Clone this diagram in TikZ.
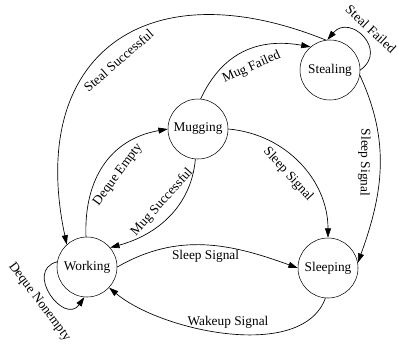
\documentclass[tikz,border=0pt]{standalone}
\usepackage{fontspec}
\setmainfont{Liberation Serif}
\usetikzlibrary{arrows.meta}

\begin{document}
\begin{tikzpicture}[x=0.75pt,y=0.75pt,>={Triangle[length=7pt,width=4.5pt]},
  font=\fontsize{10}{12}\selectfont,
  state/.style={draw,circle,minimum size=45pt,inner sep=0pt},
  trans/.style={->,line width=0.5pt},
  lbl/.style={sloped,inner sep=2pt}]
\useasboundingbox (0,0) rectangle (398,-354);
\node[state] (steal) at (330,-70) {Stealing};
\node[state] (mug) at (198,-129) {Mugging};
\node[state] (work) at (87,-267) {Working};
\node[state] (sleep) at (328,-268) {Sleeping};
% transitions
\draw[trans] (steal.98) to[out=158,in=102,looseness=1.5]
  node[lbl,below=6pt,pos=0.52]{Steal Successful} (work.132);
\draw[trans] (steal.0) to[out=35,in=50,looseness=2]
  node[lbl,above=3pt,pos=0.5]{Steal Failed} (steal.95);
\draw[trans] (mug.85) to[out=65,in=170,looseness=1.1]
  node[lbl,below=6pt]{Mug Failed} (steal.130);
\draw[trans] (work.92) to[out=92,in=190,looseness=1.1]
  node[lbl,below=6pt]{Deque Empty} (mug.180);
\draw[trans] (mug.265) to[out=-95,in=15]
  node[lbl,above=4pt,pos=0.45]{Mug Successful} (work.40);
\draw[trans] (mug.east) to[out=-5,in=90]
  node[lbl,below=5pt,pos=0.5]{Sleep Signal} (sleep.north);
\draw[trans] (steal.-10) to[out=-65,in=70]
  node[lbl,below=5pt,allow upside down,pos=0.47]{Sleep Signal} (sleep.10);
\draw[trans] (work.east) to[out=30,in=160]
  node[below]{Sleep Signal} (sleep.west);
\draw[trans] (sleep.-95) to[out=-110,in=-40,looseness=0.8]
  node[above]{Wakeup Signal} (work.-43);
\draw[trans] (work.170) to[out=195,in=235,looseness=2]
  node[lbl,below=4pt,pos=0.5]{Deque Nonempty} (work.265);
\end{tikzpicture}
\end{document}
